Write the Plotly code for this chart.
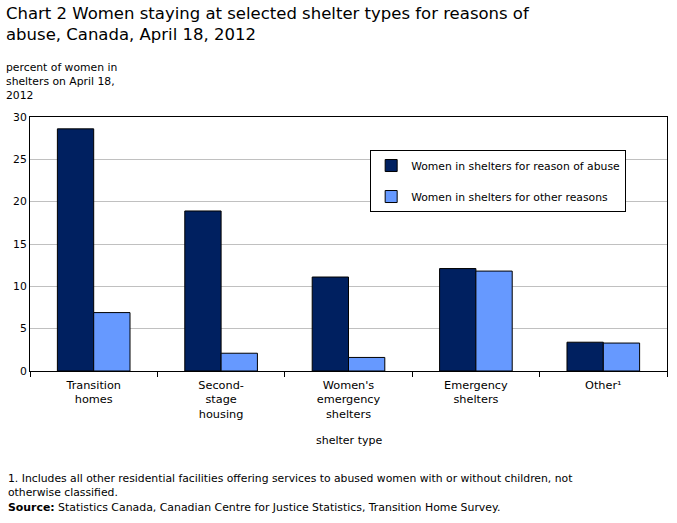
import plotly.graph_objects as go

categories = ["Transition<br>homes", "Second-<br>stage<br>housing", "Women's<br>emergency<br>shelters", "Emergency<br>shelters", "Other¹"]
abuse = [28.6, 18.9, 11.1, 12.1, 3.4]
other = [6.9, 2.1, 1.6, 11.8, 3.3]
series_names = ["Women in shelters for reason of abuse", "Women in shelters for other reasons"]
y_ticks = [0, 5, 10, 15, 20, 25, 30]

FONT = "DejaVu Sans"

fig = go.Figure()
fig.add_trace(go.Bar(x=categories, y=abuse, name=series_names[0], legendgroup="a",
                     marker=dict(color="#002060", line=dict(color="black", width=1))))
fig.add_trace(go.Bar(x=categories, y=other, name=series_names[1], legendgroup="b",
                     marker=dict(color="#6699ff", line=dict(color="black", width=1))))

fig.update_layout(
    width=677, height=523,
    margin=dict(l=30, r=10, t=117, b=152),
    paper_bgcolor="white", plot_bgcolor="white",
    font=dict(family=FONT, size=11, color="black"),
    barmode="group", bargap=0.43, bargroupgap=0,
    showlegend=True,
    legend=dict(x=0.534, y=0.87, xanchor="left", yanchor="top",
                bordercolor="black", borderwidth=1, bgcolor="white",
                font=dict(family=FONT, size=10.8, color="black"),
                itemwidth=30,
                tracegroupgap=12, traceorder="grouped"),
    xaxis=dict(showline=True, linecolor="black", linewidth=1, mirror=True,
               ticks="outside", tickson="boundaries", ticklen=5, tickcolor="black",
               ticklabelstandoff=3,
               tickfont=dict(family=FONT, size=11.3)),
    yaxis=dict(range=[0, 30], tickvals=y_ticks, showline=True, linecolor="black",
               linewidth=1, mirror=True, showgrid=True, gridcolor="#c0c0c0",
               ticks="", tickfont=dict(family=FONT, size=10.8), zeroline=False),
)

fig.add_annotation(text="Chart 2 Women staying at selected shelter types for reasons of<br>abuse, Canada, April 18, 2012",
                   xref="paper", yref="paper", x=-26/637, y=(371-2)/254, xanchor="left", yanchor="top",
                   align="left", showarrow=False, font=dict(family=FONT, size=16.5, color="black"))
fig.add_annotation(text="percent of women in<br>shelters on April 18,<br>2012",
                   xref="paper", yref="paper", x=-26/637, y=(371-59)/254, xanchor="left", yanchor="top",
                   align="left", showarrow=False, font=dict(family=FONT, size=10.8, color="black"))
fig.add_annotation(text="shelter type", xref="paper", yref="paper", x=0.5, y=-(432-371)/254,
                   xanchor="center", yanchor="top", showarrow=False, font=dict(family=FONT, size=11))
fig.add_annotation(text="1. Includes all other residential facilities offering services to abused women with or without children, not<br>otherwise classified.",
                   xref="paper", yref="paper", x=-24/637, y=-(470-371)/254, xanchor="left", yanchor="top",
                   align="left", showarrow=False, font=dict(family=FONT, size=10.8))
fig.add_annotation(text="<b>Source:</b> Statistics Canada, Canadian Centre for Justice Statistics, Transition Home Survey.",
                   xref="paper", yref="paper", x=-24/637, y=-(499-371)/254, xanchor="left", yanchor="top",
                   align="left", showarrow=False, font=dict(family=FONT, size=10.9))

fig.write_html("out.html")
